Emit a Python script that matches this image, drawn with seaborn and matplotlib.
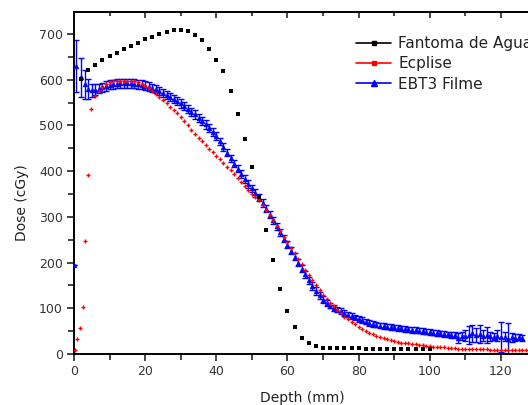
import numpy as np
import pandas as pd
import matplotlib
matplotlib.use("Agg")
import matplotlib.pyplot as plt
from matplotlib.lines import Line2D
from matplotlib.ticker import MultipleLocator
import seaborn as sns

# -------------------------
# DATA
# -------------------------
water_depth = [2, 4, 6, 8, 10, 12, 14, 16, 18, 20, 22, 24, 26, 28, 30, 32, 34, 36, 38, 40,
               42, 44, 46, 48, 50, 52, 54, 56, 58, 60, 62, 64, 66, 68, 70, 72, 74, 76, 78, 80,
               82, 84, 86, 88, 90, 92, 94, 96, 98, 100]
water_dose = [601, 621, 632, 642, 652, 659, 667, 674, 681, 688, 694, 699, 705, 709, 709, 706, 698, 687, 667, 642,
              618, 575, 525, 470, 408, 343, 271, 206, 142, 94, 58, 36, 23, 17, 14, 14, 13, 13, 13, 13,
              12, 12, 12, 12, 12, 12, 11, 11, 11, 11]

eclipse_depth = [0.4, 0.8, 1.7, 2.4, 3.1, 4.0, 4.8,
                 6, 7, 8, 9, 10, 11, 12, 13, 14, 15, 16, 17, 18, 19, 20, 21, 22, 23, 24, 25, 26, 27, 28, 29,
                 30, 31, 32, 33, 34, 35, 36, 37, 38, 39, 40, 41, 42, 43, 44, 45, 46, 47, 48, 49,
                 50, 51, 52, 53, 54, 55, 56, 57, 58, 59, 60, 61, 62, 63, 64, 65, 66, 67, 68, 69,
                 70, 71, 72, 73, 74, 75, 76, 77, 78, 79, 80, 81, 82, 83, 84, 85, 86, 87, 88, 89,
                 90, 91, 92, 93, 94, 95, 96, 97, 98, 99, 100, 101, 102, 103, 104, 105, 106, 107, 108, 109,
                 110, 111, 112, 113, 114, 115, 116, 117, 118, 119, 120, 121, 122, 123, 124, 125, 126, 127]
eclipse_dose = [9, 32, 56, 102, 248, 392, 535,
                565, 575, 584, 590, 594, 596, 597, 598, 598, 598, 597, 596, 594, 591, 587, 582, 576, 569, 562, 555, 548, 541, 534, 527,
                519, 509, 500, 490, 481, 473, 465, 457, 449, 441, 433, 426, 418, 410, 402, 394, 386, 377, 368, 359,
                350, 343, 336, 325, 314, 303, 292, 280, 268, 256, 244, 232, 220, 208, 196, 184, 172, 161, 150, 140,
                130, 121, 112, 104, 96, 89, 82, 76, 70, 65, 60, 55, 51, 47, 43, 40, 37, 35, 33, 31,
                29, 27, 25, 24, 23, 22, 21, 20, 19, 18, 17, 16, 16, 15, 15, 14, 13, 13, 12, 12,
                11, 11, 11, 10, 10, 10, 10, 9, 9, 9, 9, 9, 9, 8, 8, 8, 8, 8]

film_depth = [0, 0.7, 2, 3, 4, 5, 6, 7, 8, 9, 10, 11, 12, 13, 14, 15, 16, 17, 18, 19,
              20, 21, 22, 23, 24, 25, 26, 27, 28, 29, 30, 31, 32, 33, 34, 35, 36, 37, 38, 39,
              40, 41, 42, 43, 44, 45, 46, 47, 48, 49, 50, 51, 52, 53, 54, 55, 56, 57, 58, 59,
              60, 61, 62, 63, 64, 65, 66, 67, 68, 69, 70, 71, 72, 73, 74, 75, 76, 77, 78, 79,
              80, 81, 82, 83, 84, 85, 86, 87, 88, 89, 90, 91, 92, 93, 94, 95, 96, 97, 98, 99,
              100, 101, 102, 103, 104, 105, 106, 107, 108, 109, 110, 111, 112, 113, 114, 115, 116, 117, 118, 119,
              120, 121, 122, 123, 124, 125, 126]
film_dose = [195, 630, 605, 590, 580, 577, 578, 580, 583, 586, 589, 590, 591, 592, 592, 592, 592, 591, 590, 589,
             587, 585, 582, 579, 575, 571, 567, 562, 558, 553, 548, 542, 536, 530, 524, 517, 510, 502, 494, 485,
             476, 465, 453, 440, 428, 416, 405, 394, 383, 372, 362, 352, 342, 330, 318, 305, 292, 279, 266, 252,
             239, 226, 213, 200, 187, 174, 161, 149, 138, 128, 119, 112, 106, 101, 97, 94, 90, 86, 83, 80,
             77, 74, 71, 68, 66, 64, 62, 61, 60, 59, 58, 57, 56, 55, 54, 53, 52, 51, 50, 49,
             48, 47, 46, 45, 44, 43, 42, 41, 35, 39, 40, 42, 45, 41, 43, 40, 42, 39, 38, 40,
             38, 38, 33, 37, 36, 37, 35]
film_err = [0, 57, 42, 32, 22, 14, 12, 10, 10, 10, 10, 10, 10, 10, 10, 10, 10, 10, 10, 10,
            10, 9, 9, 9, 9, 9, 9, 9, 9, 9, 9, 9, 9, 9, 9, 9, 9, 9, 9, 9,
            9, 8, 8, 8, 8, 8, 8, 8, 8, 8, 8, 8, 8, 8, 8, 8, 8, 8, 8, 8,
            8, 8, 8, 8, 8, 8, 8, 8, 8, 8, 8, 6, 6, 6, 6, 6, 6, 6, 6, 6,
            6, 6, 6, 6, 6, 6, 6, 6, 6, 6, 6, 6, 6, 6, 6, 6, 6, 6, 6, 6,
            6, 6, 6, 6, 6, 6, 6, 7, 11, 9, 12, 20, 18, 15, 20, 12, 18, 10, 8, 12,
            33, 10, 35, 10, 8, 6, 6]

labels = ["Fantoma de Agua", "Ecplise", "EBT3 Filme"]

# -------------------------
# FIGURE
# -------------------------
sns.set_style("ticks")
plt.rcParams["font.family"] = ["DejaVu Sans"]

fig = plt.figure(figsize=(5.28, 4.05), dpi=100)
ax = fig.add_axes([74 / 528, 51 / 405, 454 / 528, 342 / 405])

water = pd.DataFrame({"depth": water_depth, "dose": water_dose})
eclipse = pd.DataFrame({"depth": eclipse_depth, "dose": eclipse_dose})
film = pd.DataFrame({"depth": film_depth, "dose": film_dose, "err": film_err})

# film: error bars + triangles
ax.errorbar(film["depth"], film["dose"], yerr=film["err"], fmt="none",
            ecolor="blue", elinewidth=1, capsize=2.2, capthick=1, zorder=2)
sns.scatterplot(data=film, x="depth", y="dose", marker="^", s=11, color="blue",
                edgecolor="blue", linewidth=0.5, ax=ax, zorder=3, legend=False)
# eclipse: small red crosses
sns.scatterplot(data=eclipse, x="depth", y="dose", marker="+", s=9, color="red",
                linewidth=1.0, ax=ax, zorder=4, legend=False)
# water phantom: black squares
sns.scatterplot(data=water, x="depth", y="dose", marker="s", s=8, color="black",
                edgecolor="black", linewidth=0, ax=ax, zorder=5, legend=False)

ax.set_xlim(0, 127.6)
ax.set_ylim(0, 748)
ax.set_xlabel("")
ax.set_ylabel("")

ax.xaxis.set_major_locator(MultipleLocator(20))
ax.xaxis.set_minor_locator(MultipleLocator(10))
ax.yaxis.set_major_locator(MultipleLocator(100))
ax.yaxis.set_minor_locator(MultipleLocator(50))

for s in ["left", "bottom", "top"]:
    ax.spines[s].set_linewidth(1.4)
    ax.spines[s].set_color("black")
ax.spines["right"].set_visible(False)

ax.tick_params(axis="both", which="major", direction="out", length=5, width=1.2,
               labelsize=9, labelcolor="#333333", pad=3)
ax.tick_params(axis="both", which="minor", direction="out", length=4, width=1.2)
ax.tick_params(axis="y", which="both", right=False)

# top ticks point inward, drawn by a secondary axis
top = ax.secondary_xaxis("top")
top.xaxis.set_major_locator(MultipleLocator(20))
top.xaxis.set_minor_locator(MultipleLocator(10))
top.tick_params(which="major", direction="in", length=4, width=1.2, labeltop=False)
top.tick_params(which="minor", direction="in", length=3, width=1.2)
top.spines["top"].set_linewidth(1.4)
ax.tick_params(axis="x", which="both", top=False)

fig.text(22 / 528, 1 - 203 / 405, "Dose (cGy)", rotation=90, ha="center", va="center",
         fontsize=10, color="#222222")
fig.text(302 / 528, 1 - 391 / 405, "Depth (mm)", ha="center", va="top",
         fontsize=10, color="#222222")

handles = [
    Line2D([], [], color="black", lw=1.2, marker="s", markersize=2.5),
    Line2D([], [], color="red", lw=1.2, marker="s", markersize=2.5),
    Line2D([], [], color="blue", lw=1.2, marker="^", markersize=4),
]
fig.legend(handles, labels, loc="upper left", bbox_to_anchor=(356 / 528, 1 - 36 / 405),
           frameon=False, fontsize=11, handlelength=2.3, handletextpad=0.45,
           labelspacing=0.35, borderpad=0, borderaxespad=0, labelcolor="#222222")

fig.savefig("out.png", dpi=100)
